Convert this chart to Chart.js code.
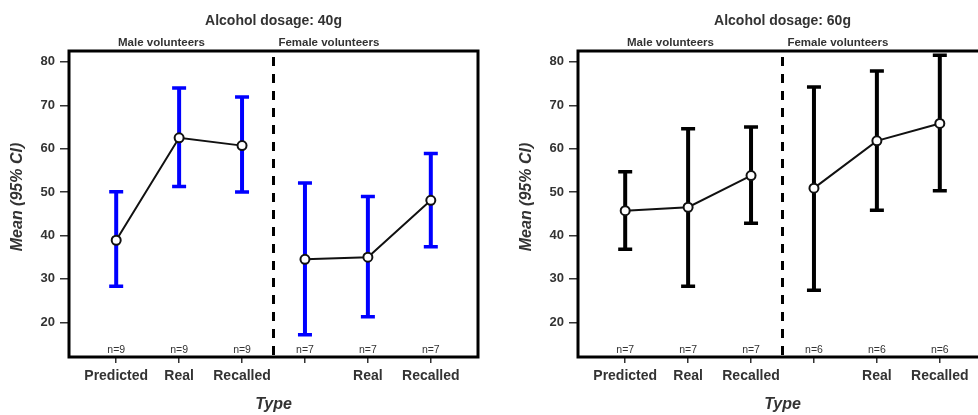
<!DOCTYPE html>
<html>
<head>
<meta charset="utf-8">
<script src="https://cdn.jsdelivr.net/npm/chart.js@4.4.1/dist/chart.umd.min.js"></script>
<style>
  html, body { margin: 0; padding: 0; background: #fff; }
  body { width: 978px; height: 415px; overflow: hidden; position: relative; }
  .panel { position: absolute; top: 0; width: 489px; height: 415px; }
  #p40 { left: 0; }
  #p60 { left: 509px; }
</style>
</head>
<body>
<div class="panel" id="p40"><canvas id="c40" width="489" height="415"></canvas></div>
<div class="panel" id="p60"><canvas id="c60" width="489" height="415"></canvas></div>
<script>
// Category slots on the x axis (male: 1-3, female: 4-6) and their labels
const positions = [1, 2, 3, 4, 5, 6];
const tickLabels = ['Predicted', 'Real', 'Recalled', '', 'Real', 'Recalled'];
const groups = ['Male volunteers', 'Female volunteers'];
const yTicks = [20, 30, 40, 50, 60, 70, 80];

// 40 g dosage: means with 95% CI bounds and group sizes
const mean40  = [38.9, 62.5, 60.7, 34.5, 35.0, 48.1];
const lower40 = [28.3, 51.3, 50.0, 17.1, 21.3, 37.4];
const upper40 = [50.1, 74.0, 71.9, 52.1, 49.0, 58.9];
const n40     = [9, 9, 9, 7, 7, 7];

// 60 g dosage
const mean60  = [45.7, 46.5, 53.8, 50.9, 61.8, 65.8];
const lower60 = [36.8, 28.3, 42.8, 27.4, 45.8, 50.3];
const upper60 = [54.7, 64.6, 65.0, 74.2, 77.9, 81.5];
const n60     = [7, 7, 7, 6, 6, 6];

const FONT = '"Liberation Sans", Arial, Helvetica, sans-serif';
const TEXT = '#333333';
Chart.defaults.font.family = FONT;
Chart.defaults.color = TEXT;

function points(means, idx) {
  return idx.map(i => ({ x: positions[i], y: means[i] }));
}

const decor = {
  id: 'decor',
  beforeDatasetsDraw(chart, args, opts) {
    const { ctx } = chart;
    const xs = chart.scales.x, ys = chart.scales.y;
    ctx.save();
    ctx.strokeStyle = opts.barColor;
    ctx.lineCap = 'butt';
    positions.forEach((p, i) => {
      const x = xs.getPixelForValue(p);
      const yl = ys.getPixelForValue(opts.lower[i]);
      const yu = ys.getPixelForValue(opts.upper[i]);
      ctx.lineWidth = 4;
      ctx.beginPath(); ctx.moveTo(x, yl); ctx.lineTo(x, yu); ctx.stroke();
      ctx.lineWidth = 3.5;
      ctx.beginPath();
      ctx.moveTo(x - 7, yu); ctx.lineTo(x + 7, yu);
      ctx.moveTo(x - 7, yl); ctx.lineTo(x + 7, yl);
      ctx.stroke();
    });
    ctx.restore();
  },
  afterDatasetsDraw(chart, args, opts) {
    const { ctx, chartArea: a } = chart;
    const xs = chart.scales.x;
    ctx.save();
    // divider between male and female groups
    const xd = xs.getPixelForValue(3.5);
    ctx.strokeStyle = '#000';
    ctx.lineWidth = 3;
    ctx.setLineDash([9, 8]);
    ctx.beginPath(); ctx.moveTo(xd, a.top + 6); ctx.lineTo(xd, a.bottom); ctx.stroke();
    ctx.setLineDash([]);
    // frame
    ctx.lineWidth = 3;
    ctx.strokeRect(a.left, a.top, a.right - a.left, a.bottom - a.top);
    // group sizes
    ctx.fillStyle = TEXT;
    ctx.font = '10.5px ' + FONT;
    ctx.textAlign = 'center';
    ctx.textBaseline = 'middle';
    positions.forEach((p, i) => {
      ctx.fillText('n=' + opts.n[i], xs.getPixelForValue(p), a.bottom - 7);
    });
    ctx.restore();
  },
  afterDraw(chart, args, opts) {
    const { ctx, chartArea: a } = chart;
    const xs = chart.scales.x;
    const cx = (a.left + a.right) / 2;
    ctx.save();
    ctx.fillStyle = TEXT;
    ctx.textAlign = 'center';
    ctx.textBaseline = 'middle';
    ctx.font = 'bold 14px ' + FONT;
    ctx.fillText(opts.title, cx, 21);
    ctx.font = 'bold 11.5px ' + FONT;
    ctx.fillText(groups[0], xs.getPixelForValue(1.72), 43);
    ctx.fillText(groups[1], xs.getPixelForValue(4.38), 43);
    ctx.font = 'italic bold 16px ' + FONT;
    ctx.fillText('Type', cx, 405);
    ctx.translate(18, a.top + 146);
    ctx.rotate(-Math.PI / 2);
    ctx.fillText('Mean (95% CI)', 0, 0);
    ctx.restore();
  }
};

function makeChart(id, title, mean, lower, upper, n, barColor) {
  return new Chart(document.getElementById(id), {
    type: 'line',
    data: {
      datasets: [
        { data: points(mean, [0, 1, 2]) },
        { data: points(mean, [3, 4, 5]) }
      ]
    },
    options: {
      responsive: false,
      animation: false,
      devicePixelRatio: 1,
      layout: { padding: { top: 51, right: 11, left: 0, bottom: 0 } },
      elements: {
        line: { borderColor: '#111', borderWidth: 2, tension: 0 },
        point: { radius: 4.5, borderWidth: 2, borderColor: '#111', backgroundColor: '#ffffff' }
      },
      plugins: {
        legend: { display: false },
        tooltip: { enabled: false },
        decor: { title, lower, upper, n, barColor }
      },
      scales: {
        x: {
          type: 'linear',
          min: 0.25, max: 6.75,
          afterBuildTicks: s => { s.ticks = positions.map(v => ({ value: v })); },
          afterFit: s => { s.height = 58; },
          border: { display: false },
          grid: { drawOnChartArea: false, drawTicks: true, tickLength: 6, color: '#333', lineWidth: 1.5 },
          ticks: {
            padding: 5,
            autoSkip: false,
            maxRotation: 0,
            color: TEXT,
            font: { size: 14, weight: 'bold', family: FONT },
            callback: v => tickLabels[positions.indexOf(v)]
          }
        },
        y: {
          min: 12, max: 82.5,
          afterBuildTicks: s => { s.ticks = yTicks.map(v => ({ value: v })); },
          afterFit: s => { s.width = 69; },
          border: { display: false },
          grid: { drawOnChartArea: false, drawTicks: true, tickLength: 9, color: '#333', lineWidth: 1.5 },
          ticks: {
            padding: 5,
            color: TEXT,
            font: { size: 13, weight: 'bold', family: FONT }
          }
        }
      }
    },
    plugins: [decor]
  });
}

makeChart('c40', 'Alcohol dosage: 40g', mean40, lower40, upper40, n40, '#0000ff');
makeChart('c60', 'Alcohol dosage: 60g', mean60, lower60, upper60, n60, '#000000');
</script>
</body>
</html>
